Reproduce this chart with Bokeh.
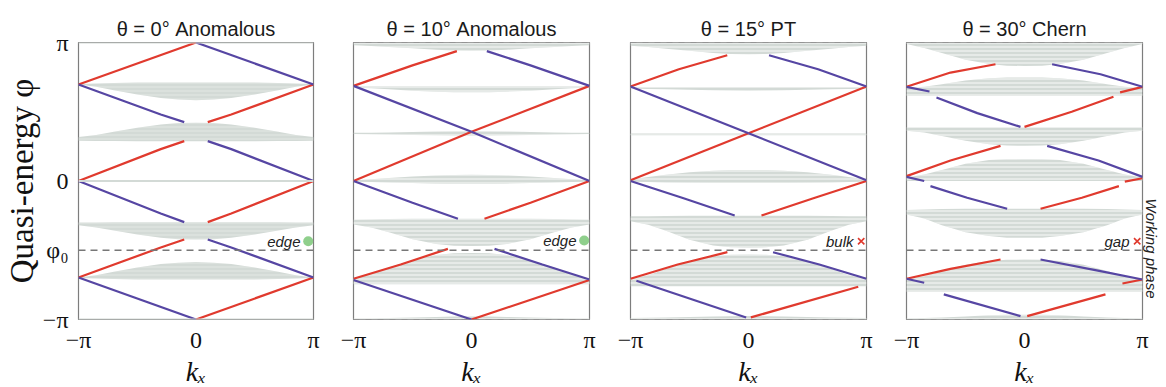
import numpy as np
from bokeh.plotting import figure
from bokeh.layouts import row
from bokeh.models import FixedTicker, Label, Range1d, Span, LinearAxis
from bokeh.embed import file_html
from bokeh.resources import INLINE

# ---------------- data (all values in units of pi) ----------------
TITLES = ["θ = 0° Anomalous", "θ = 10° Anomalous", "θ = 15° PT", "θ = 30° Chern"]
X_TICKS = [-1, 0, 1]
X_TICK_LABELS = ["−π", "0", "π"]
Y_TICKS = [-1, -0.5, 0, 1]
Y_TICK_LABELS = ["−π", "φ₀", "0", "π"]
PHI0 = -0.5
MARK_TEXT = ["edge", "edge", "bulk", "gap"]
MARK_KIND = ["dot", "dot", "cross", "cross"]
MARK_X = [0.955, 0.955, 0.955, 0.955]
MARK_Y = [-0.435, -0.43, -0.435, -0.435]
SIDE_LABEL = "Working phase"

# bulk bands: half profiles at |kx| = K_HALF (mirrored to negative kx)
K_HALF = [0.0, 0.15, 0.3, 0.5, 0.7, 0.85, 1.0]

BANDS_0_TOP = [
    [0.712, 0.712, 0.712, 0.711, 0.708, 0.704, 0.700],
    [0.420, 0.418, 0.408, 0.385, 0.355, 0.333, 0.318],
    [-0.297, -0.297, -0.297, -0.297, -0.298, -0.299, -0.300],
    [-0.585, -0.590, -0.600, -0.625, -0.655, -0.680, -0.697],
]
BANDS_0_BOT = [
    [0.583, 0.589, 0.600, 0.625, 0.655, 0.680, 0.697],
    [0.287, 0.287, 0.287, 0.287, 0.288, 0.288, 0.290],
    [-0.422, -0.420, -0.410, -0.387, -0.357, -0.335, -0.320],
    [-0.712, -0.712, -0.712, -0.711, -0.708, -0.704, -0.700],
]
BANDS_1_TOP = [
    [1.0, 1.0, 1.0, 1.0, 1.0, 1.0, 1.0],
    [0.684, 0.684, 0.684, 0.684, 0.684, 0.684, 0.684],
    [0.360, 0.359, 0.357, 0.354, 0.351, 0.349, 0.348],
    [0.045, 0.044, 0.040, 0.032, 0.022, 0.012, 0.006],
    [-0.272, -0.272, -0.272, -0.273, -0.275, -0.278, -0.280],
    [-0.520, -0.522, -0.535, -0.570, -0.625, -0.672, -0.706],
    [-0.978, -0.979, -0.982, -0.986, -0.990, -0.992, -0.993],
]
BANDS_1_BOT = [
    [0.940, 0.942, 0.948, 0.958, 0.968, 0.975, 0.980],
    [0.640, 0.641, 0.645, 0.652, 0.662, 0.670, 0.675],
    [0.327, 0.328, 0.330, 0.333, 0.336, 0.338, 0.340],
    [-0.022, -0.021, -0.019, -0.015, -0.010, -0.007, -0.005],
    [-0.470, -0.468, -0.455, -0.420, -0.370, -0.335, -0.314],
    [-0.745, -0.745, -0.745, -0.745, -0.745, -0.745, -0.745],
    [-1.0, -1.0, -1.0, -1.0, -1.0, -1.0, -1.0],
]
BANDS_2_TOP = [
    [1.0, 1.0, 1.0, 1.0, 1.0, 1.0, 1.0],
    [0.676, 0.676, 0.676, 0.676, 0.676, 0.676, 0.676],
    [0.343, 0.343, 0.343, 0.343, 0.343, 0.343, 0.343],
    [0.080, 0.079, 0.074, 0.063, 0.045, 0.028, 0.010],
    [-0.250, -0.250, -0.250, -0.251, -0.252, -0.254, -0.255],
    [-0.531, -0.533, -0.543, -0.580, -0.636, -0.680, -0.706],
    [-0.975, -0.976, -0.978, -0.982, -0.986, -0.988, -0.990],
]
BANDS_2_BOT = [
    [0.915, 0.917, 0.925, 0.940, 0.955, 0.968, 0.976],
    [0.652, 0.653, 0.655, 0.658, 0.662, 0.665, 0.667],
    [0.331, 0.331, 0.331, 0.331, 0.331, 0.331, 0.331],
    [-0.015, -0.015, -0.014, -0.012, -0.010, -0.008, -0.006],
    [-0.482, -0.479, -0.465, -0.425, -0.360, -0.315, -0.290],
    [-0.760, -0.760, -0.760, -0.760, -0.760, -0.760, -0.760],
    [-1.0, -1.0, -1.0, -1.0, -1.0, -1.0, -1.0],
]
BANDS_3_TOP = [
    [1.0, 1.0, 1.0, 1.0, 1.0, 1.0, 1.0],
    [0.748, 0.747, 0.742, 0.725, 0.698, 0.680, 0.672],
    [0.386, 0.386, 0.386, 0.386, 0.386, 0.386, 0.386],
    [0.158, 0.157, 0.152, 0.125, 0.080, 0.047, 0.025],
    [-0.200, -0.200, -0.200, -0.201, -0.203, -0.206, -0.210],
    [-0.567, -0.569, -0.577, -0.605, -0.650, -0.688, -0.706],
    [-0.965, -0.966, -0.970, -0.978, -0.985, -0.990, -0.993],
]
BANDS_3_BOT = [
    [0.830, 0.833, 0.845, 0.875, 0.925, 0.960, 0.990],
    [0.615, 0.615, 0.615, 0.615, 0.615, 0.615, 0.615],
    [0.254, 0.256, 0.265, 0.290, 0.325, 0.350, 0.362],
    [0.0, 0.0, 0.0, 0.0, 0.0, 0.0, 0.0],
    [-0.410, -0.409, -0.398, -0.370, -0.320, -0.270, -0.242],
    [-0.800, -0.800, -0.800, -0.800, -0.800, -0.800, -0.800],
    [-1.0, -1.0, -1.0, -1.0, -1.0, -1.0, -1.0],
]
FLAT_0 = [0.0]

# edge states (red / blue polylines)
RED_0_X = [[-1, 0], [0.1, 0.3, 1], [-1, -0.3, -0.1], [0.1, 0.3, 1], [-1, -0.3, -0.1], [0, 1]]
RED_0_Y = [[0.697, 1.0], [0.425, 0.48, 0.697], [0.0, 0.23, 0.288], [-0.297, -0.235, 0.0],
           [-0.697, -0.48, -0.422], [-1.0, -0.697]]
BLUE_0_X = [[0, 1], [-1, -0.3, -0.1], [0.1, 0.3, 1], [-1, -0.3, -0.1], [0.1, 0.3, 1], [-1, 0]]
BLUE_0_Y = [[1.0, 0.697], [0.697, 0.48, 0.425], [0.288, 0.23, 0.0], [0.0, -0.235, -0.297],
            [-0.422, -0.48, -0.697], [-0.697, -1.0]]

RED_1_X = [[-1, -0.5, -0.124], [0, 1], [-1, 0], [0.11, 0.5, 1], [-1, -0.6, -0.2], [0.0, 1]]
RED_1_Y = [[0.687, 0.835, 0.938], [0.355, 0.687], [0.0, 0.355], [-0.272, -0.157, 0.0],
           [-0.706, -0.603, -0.49], [-1.0, -0.715]]
BLUE_1_X = [[0.13, 0.5, 1], [-1, 0], [0, 1], [-1, -0.5, -0.115], [0.195, 0.6, 1], [-1, 0]]
BLUE_1_Y = [[0.938, 0.835, 0.687], [0.687, 0.355], [0.355, 0.0], [0.0, -0.157, -0.272],
            [-0.49, -0.603, -0.711], [-0.715, -1.0]]

RED_2_X = [[-1, -0.59, -0.18], [0, 1], [-1, 0], [0.11, 0.55, 1], [-1, -0.6, -0.179], [0.02, 0.93]]
RED_2_Y = [[0.682, 0.807, 0.908], [0.345, 0.682], [0.005, 0.345], [-0.249, -0.125, 0.0],
           [-0.706, -0.603, -0.514], [-0.985, -0.764]]
BLUE_2_X = [[0.174, 0.59, 1], [-1, 0], [0, 1], [-1, -0.55, -0.117], [0.208, 0.6, 1], [-0.95, -0.02]]
BLUE_2_Y = [[0.908, 0.807, 0.682], [0.682, 0.345], [0.345, 0.005], [0.0, -0.125, -0.249],
            [-0.514, -0.603, -0.706], [-0.72, -0.985]]

RED_3_X = [[-1, -0.627, -0.246], [0.0, 0.4, 0.754], [0.81, 1], [-1, -0.627, -0.203],
           [0.136, 0.486, 0.8], [0.85, 1], [-1, -0.627, -0.203], [0.83, 1], [0.023, 0.686]]
RED_3_Y = [[0.68, 0.783, 0.843], [0.391, 0.5, 0.608], [0.64, 0.68], [0.035, 0.148, 0.254],
           [-0.2, -0.121, -0.037], [-0.005, 0.02], [-0.706, -0.634, -0.567], [-0.74, -0.711],
           [-0.976, -0.819]]
BLUE_3_X = [[0.234, 0.644, 1], [-1, -0.805], [-0.746, -0.4, -0.034], [0.192, 0.627, 1],
            [-1, -0.85], [-0.797, -0.486, -0.147], [0.136, 0.644, 1], [-1, -0.85], [-0.684, -0.034]]
BLUE_3_Y = [[0.843, 0.771, 0.68], [0.68, 0.646], [0.603, 0.49, 0.391], [0.254, 0.148, 0.03],
            [0.03, 0.0], [-0.037, -0.121, -0.2], [-0.567, -0.651, -0.711], [-0.706, -0.735],
            [-0.819, -0.976]]

BANDS_TOP = [BANDS_0_TOP, BANDS_1_TOP, BANDS_2_TOP, BANDS_3_TOP]
BANDS_BOT = [BANDS_0_BOT, BANDS_1_BOT, BANDS_2_BOT, BANDS_3_BOT]
RED_X = [RED_0_X, RED_1_X, RED_2_X, RED_3_X]
RED_Y = [RED_0_Y, RED_1_Y, RED_2_Y, RED_3_Y]
BLUE_X = [BLUE_0_X, BLUE_1_X, BLUE_2_X, BLUE_3_X]
BLUE_Y = [BLUE_0_Y, BLUE_1_Y, BLUE_2_Y, BLUE_3_Y]

# ---------------- style ----------------
RED = "#e03a2e"
BLUE = "#5646a3"
BAND = "#d3dad6"
GREEN = "#8fcf8c"
SERIF = "Liberation Serif"
SANS = "Liberation Sans"

FRAME_W = [235, 236, 236, 236]
BORDER_L = [70, 20, 20, 20]
BORDER_R = [20, 21, 20, 16]


def mirror(vals):
    return list(reversed(vals)) + list(vals[1:])


KX_FULL = [-k for k in reversed(K_HALF)] + K_HALF[1:]

figs = []
for i in range(4):
    p = figure(frame_width=FRAME_W[i], frame_height=277,
               x_range=Range1d(-1, 1), y_range=Range1d(-1, 1),
               output_backend="svg", toolbar_location=None,
               min_border_left=BORDER_L[i], min_border_right=BORDER_R[i],
               min_border_top=42, min_border_bottom=58,
               title=TITLES[i])
    p.title.align = "center"
    p.title.text_font = SANS
    p.title.text_font_size = "20px"
    p.title.text_font_style = "normal"
    p.title.text_color = "#1a1a1a"
    p.title.standoff = 5
    p.grid.visible = False
    p.background_fill_color = "white"
    p.border_fill_color = "white"
    p.outline_line_color = "#7d7d7d"
    p.outline_line_width = 1.2

    # x axis
    p.xaxis.ticker = FixedTicker(ticks=X_TICKS)
    p.xaxis.major_label_overrides = dict(zip(X_TICKS, X_TICK_LABELS))
    p.xaxis.major_label_text_font = SERIF
    p.xaxis.major_label_text_font_size = "24px"
    p.xaxis.major_label_text_color = "#111"
    p.xaxis.major_label_standoff = 1
    p.xaxis.major_tick_line_color = None
    p.xaxis.minor_tick_line_color = None
    p.xaxis.axis_line_color = None
    p.xaxis.axis_label = "kₓ"
    p.xaxis.axis_label_text_font = SERIF
    p.xaxis.axis_label_text_font_style = "italic"
    p.xaxis.axis_label_text_font_size = "28px"
    p.xaxis.axis_label_text_color = "#111"
    p.xaxis.axis_label_standoff = 0

    if i == 0:
        p.yaxis.ticker = FixedTicker(ticks=Y_TICKS)
        p.yaxis.major_label_overrides = dict(zip(Y_TICKS, Y_TICK_LABELS))
        p.yaxis.major_label_text_font = SERIF
        p.yaxis.major_label_text_font_size = "24px"
        p.yaxis.major_label_text_color = "#111"
        p.yaxis.major_label_standoff = 4
        p.yaxis.major_tick_line_color = None
        p.yaxis.minor_tick_line_color = None
        p.yaxis.axis_line_color = None
        p.yaxis.axis_label = "Quasi-energy φ"
        p.yaxis.axis_label_text_font = SERIF
        p.yaxis.axis_label_text_font_size = "33px"
        p.yaxis.axis_label_text_font_style = "normal"
        p.yaxis.axis_label_text_color = "#111"
        p.yaxis.axis_label_standoff = 0
    else:
        p.yaxis.visible = False

    # bulk bands
    hatch_alpha = 0.35 if i == 0 else 0.85
    for top, bot in zip(BANDS_TOP[i], BANDS_BOT[i]):
        p.varea(x=KX_FULL, y1=mirror(bot), y2=mirror(top), fill_color=BAND,
                hatch_pattern="horizontal_line", hatch_color="white",
                hatch_alpha=hatch_alpha, hatch_scale=4, hatch_weight=1)
    if i == 0:
        for v in FLAT_0:
            p.add_layout(Span(location=v, dimension="width", line_color=BAND, line_width=2))
        for v in (-1, 1):
            p.add_layout(Span(location=v, dimension="width", line_color=BAND, line_width=2))
    else:
        for v in (-1, 1):
            p.add_layout(Span(location=v, dimension="width", line_color="#8a8a8a",
                              line_width=1.2, line_dash="6 6"))

    # edge states
    p.multi_line(xs=RED_X[i], ys=RED_Y[i], line_color=RED, line_width=2.2)
    p.multi_line(xs=BLUE_X[i], ys=BLUE_Y[i], line_color=BLUE, line_width=2.2)

    # working phase line
    p.add_layout(Span(location=PHI0, dimension="width", line_color="#777777",
                      line_width=1.3, line_dash="7 5"))

    # marker
    p.add_layout(Label(x=1, y=MARK_Y[i], x_offset=-13, text=MARK_TEXT[i],
                       text_font=SANS, text_font_style="italic", text_font_size="15px",
                       text_color="#222", text_align="right", text_baseline="middle"))
    if MARK_KIND[i] == "dot":
        p.scatter(x=[MARK_X[i]], y=[MARK_Y[i]], size=10, fill_color=GREEN,
                  line_color=None, marker="circle")
    else:
        p.scatter(x=[MARK_X[i]], y=[MARK_Y[i]], size=9, line_color=RED,
                  line_width=1.6, marker="x")

    if i == 3:
        # leading em-spaces shift the (top-to-bottom) label down along the axis
        ax = LinearAxis(axis_label="\u2003" * 9 + SIDE_LABEL, ticker=FixedTicker(ticks=[]))
        ax.axis_line_color = None
        ax.major_tick_line_color = None
        ax.minor_tick_line_color = None
        ax.major_label_text_font_size = "0px"
        ax.major_label_standoff = 0
        ax.axis_label_standoff = 0
        ax.axis_label_text_font = SANS
        ax.axis_label_text_font_style = "italic"
        ax.axis_label_text_font_size = "15px"
        ax.axis_label_text_color = "#222"
        p.add_layout(ax, "right")
    figs.append(p)

layout = row(*figs, spacing=0)
open("out.html", "w").write(file_html(layout, INLINE))
